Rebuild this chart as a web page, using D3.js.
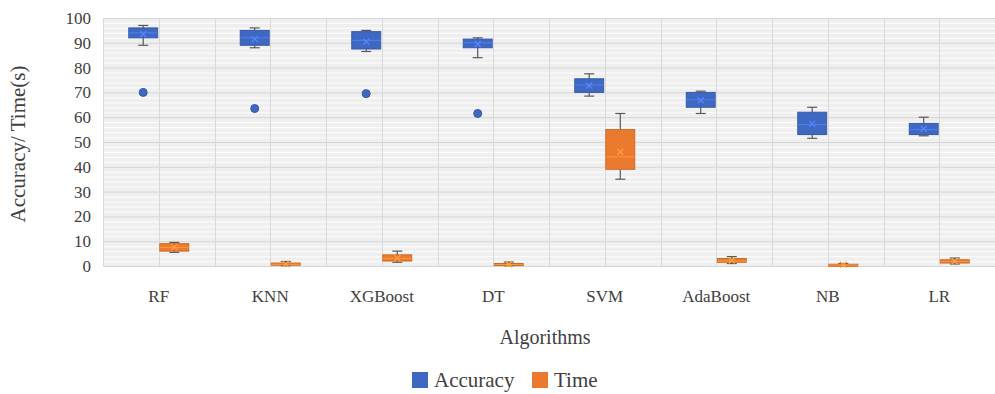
<!DOCTYPE html>
<html>
<head>
<meta charset="utf-8">
<script src="https://cdn.jsdelivr.net/npm/d3@7"></script>
<style>
  body { margin: 0; background: #fff; }
  text { font-family: "Liberation Serif", "DejaVu Serif", serif; fill: #404040; }
</style>
</head>
<body>
<div id="chart"></div>
<script>
var width = 995;
var height = 394;

// categories and box stats
var algorithms = ["RF", "KNN", "XGBoost", "DT", "SVM", "AdaBoost", "NB", "LR"];
var seriesNames = ["Accuracy", "Time"];
var seriesColors = ["#3f68c2", "#eb7a2e"];

var accMin = [89, 88, 86.5, 84, 68.5, 61.5, 51.5, 52.5];
var accQ1 = [92, 89, 87.5, 88, 70, 64, 53, 53];
var accMed = [94, 92, 91, 90, 73, 67, 57, 55];
var accQ3 = [96, 95, 94.5, 91.5, 75.5, 70, 62, 57.5];
var accMax = [97, 96, 95, 92, 77.5, 70.5, 64, 60];
var accMean = [93.5, 91.5, 90.5, 89.5, 72.8, 66.8, 57.3, 55.3];
var accOutliers = [[70], [63.5], [69.5], [61.5], [], [], [], []];

var timeMin = [5.5, 0.1, 1.5, 0.1, 35, 1, 0.1, 0.8];
var timeQ1 = [6, 0.3, 2, 0.3, 39, 1.5, 0.2, 1.2];
var timeMed = [7.5, 0.7, 3, 0.6, 44, 2, 0.4, 1.8];
var timeQ3 = [9, 1.2, 4.5, 1, 55, 3, 0.7, 2.5];
var timeMax = [9.5, 1.8, 6, 1.6, 61.5, 3.8, 1, 3.2];
var timeMean = [7.6, 0.8, 3.2, 0.7, 46, 2.2, 0.5, 1.9];
var timeOutliers = [[], [], [], [], [], [], [], []];

var yTicks = [0, 10, 20, 30, 40, 50, 60, 70, 80, 90, 100];

function buildStats(mins, q1s, meds, q3s, maxs, means, outs) {
    return algorithms.map(function(a, i) {
        return { cat: a, min: mins[i], q1: q1s[i], med: meds[i], q3: q3s[i],
                 max: maxs[i], mean: means[i], out: outs[i] };
    });
}
var series = [
    buildStats(accMin, accQ1, accMed, accQ3, accMax, accMean, accOutliers),
    buildStats(timeMin, timeQ1, timeMed, timeQ3, timeMax, timeMean, timeOutliers)
];

var margin = { left: 103, right: 0, top: 18, bottom: 128 };
var plotW = width - margin.left - margin.right;
var plotH = height - margin.top - margin.bottom;

var svg = d3.select("#chart").append("svg")
    .attr("width", width)
    .attr("height", height);

var x = d3.scaleBand().domain(algorithms).range([0, plotW]);
var xSub = d3.scaleBand().domain(seriesNames)
    .range([x.bandwidth() / 2 - 30, x.bandwidth() / 2 + 30])
    .paddingInner(0.07);
var y = d3.scaleLinear().domain([0, 100]).range([plotH, 0]);

var g = svg.append("g").attr("transform", "translate(" + margin.left + "," + margin.top + ")");

// plot background + grid
g.append("rect")
    .attr("x", 0).attr("y", 0)
    .attr("width", plotW).attr("height", plotH)
    .attr("fill", "#efefef");

var minorTicks = d3.range(0, 101, 2).filter(function(v) { return v % 10 !== 0; });
g.selectAll(".minor")
    .data(minorTicks)
    .enter().append("line")
    .attr("x1", 0).attr("x2", plotW)
    .attr("y1", d => y(d) + 0.5).attr("y2", d => y(d) + 0.5)
    .attr("stroke", "#fbfbfb").attr("stroke-width", 1.2);

g.selectAll(".major")
    .data(yTicks)
    .enter().append("line")
    .attr("x1", 0).attr("x2", plotW)
    .attr("y1", d => y(d) + 0.5).attr("y2", d => y(d) + 0.5)
    .attr("stroke", "#d6d6d6").attr("stroke-width", 1);

// vertical lines at category edges and centres
var vLines = [];
algorithms.forEach(function(a) {
    vLines.push(x(a));
    vLines.push(x(a) + x.bandwidth() / 2);
});
g.selectAll(".vline")
    .data(vLines)
    .enter().append("line")
    .attr("x1", d => Math.round(d) + 0.5).attr("x2", d => Math.round(d) + 0.5)
    .attr("y1", 0).attr("y2", plotH)
    .attr("stroke", "#d9d9d9").attr("stroke-width", 1);

// y axis labels
var yAxis = g.append("g")
    .call(d3.axisLeft(y).tickValues(yTicks).tickSize(0).tickPadding(12));
yAxis.select(".domain").remove();
yAxis.selectAll("text")
    .attr("font-size", 17)
    .attr("font-family", "Liberation Serif")
    .attr("fill", "#404040");

// x axis labels
var xAxis = g.append("g")
    .attr("transform", "translate(0," + plotH + ")")
    .call(d3.axisBottom(x).tickSize(0).tickPadding(24));
xAxis.select(".domain").remove();
xAxis.selectAll("text")
    .attr("font-size", 17)
    .attr("font-family", "Liberation Serif")
    .attr("fill", "#404040");

// boxes
series.forEach(function(stats, si) {
    var color = seriesColors[si];
    var name = seriesNames[si];
    var bw = xSub.bandwidth();
    var sg = g.append("g").attr("class", "series-" + name);

    var box = sg.selectAll("g.box")
        .data(stats)
        .enter().append("g")
        .attr("class", "box")
        .attr("transform", d => "translate(" + (x(d.cat) + xSub(name)) + ",0)");

    // whiskers
    box.append("line")
        .attr("x1", bw / 2).attr("x2", bw / 2)
        .attr("y1", d => y(d.max)).attr("y2", d => y(d.min))
        .attr("stroke", "#595959").attr("stroke-width", 1.2);
    box.append("line")
        .attr("x1", bw / 2 - 5).attr("x2", bw / 2 + 5)
        .attr("y1", d => y(d.max)).attr("y2", d => y(d.max))
        .attr("stroke", "#595959").attr("stroke-width", 1.2);
    box.append("line")
        .attr("x1", bw / 2 - 5).attr("x2", bw / 2 + 5)
        .attr("y1", d => y(d.min)).attr("y2", d => y(d.min))
        .attr("stroke", "#595959").attr("stroke-width", 1.2);

    // box body
    box.append("rect")
        .attr("x", 0)
        .attr("y", d => y(d.q3))
        .attr("width", bw)
        .attr("height", d => Math.max(2, y(d.q1) - y(d.q3)))
        .attr("fill", color)
        .attr("stroke", d3.color(color).darker(0.4))
        .attr("stroke-width", 1);

    // median
    box.append("line")
        .attr("x1", 0).attr("x2", bw)
        .attr("y1", d => y(d.med)).attr("y2", d => y(d.med))
        .attr("stroke", d3.color(color).brighter(0.6)).attr("stroke-width", 1);

    // mean marker
    box.append("path")
        .attr("transform", d => "translate(" + bw / 2 + "," + y(d.mean) + ")")
        .attr("d", "M-3,-3L3,3M-3,3L3,-3")
        .attr("stroke", d3.color(color).brighter(0.8)).attr("stroke-width", 1.2);

    // outliers
    box.selectAll("circle")
        .data(d => d.out)
        .enter().append("circle")
        .attr("cx", bw / 2)
        .attr("cy", v => y(v))
        .attr("r", 4)
        .attr("fill", color)
        .attr("stroke", d3.color(color).darker(0.5));
});

// axis titles
svg.append("text")
    .attr("transform", "translate(25," + (margin.top + plotH / 2 + 2) + ") rotate(-90)")
    .attr("text-anchor", "middle")
    .attr("font-size", 21)
    .text("Accuracy/ Time(s)");

svg.append("text")
    .attr("x", margin.left + plotW / 2 - 4)
    .attr("y", 344)
    .attr("text-anchor", "middle")
    .attr("font-size", 20)
    .text("Algorithms");

// legend
var legend = svg.append("g").attr("transform", "translate(412,372)");
var lx = [0, 120];
seriesNames.forEach(function(n, i) {
    legend.append("rect")
        .attr("x", lx[i]).attr("y", 0)
        .attr("width", 16).attr("height", 16)
        .attr("fill", seriesColors[i]);
    legend.append("text")
        .attr("x", lx[i] + 22).attr("y", 15)
        .attr("font-size", 21)
        .text(n);
});
</script>
</body>
</html>
